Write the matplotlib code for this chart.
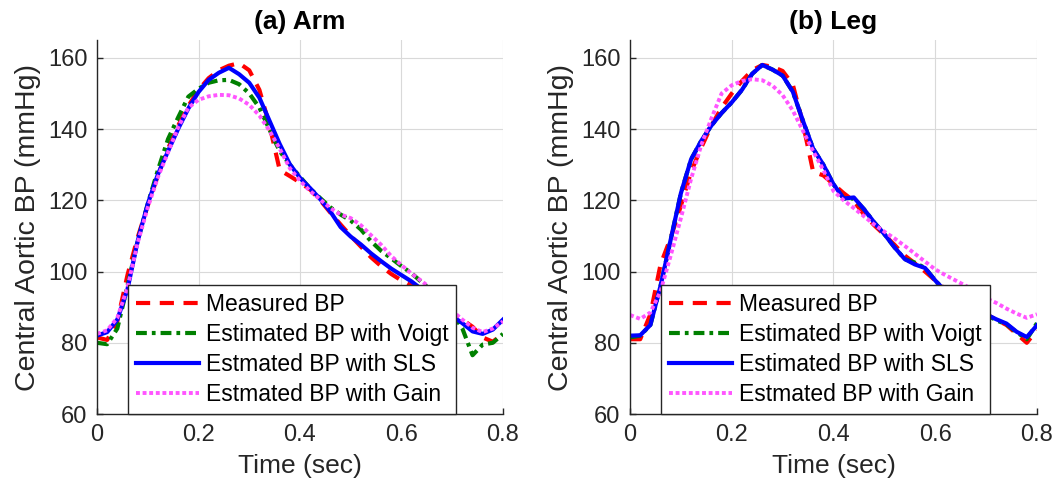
import matplotlib.pyplot as plt
import numpy as np

# time axis (sec), sampled every 0.02 s
t = np.round(np.arange(0, 0.81, 0.02), 2)

# (a) Arm
arm_measured = [81.5, 80.8, 86.0, 99.0, 109.5, 118.5, 127.0, 134.5, 141.0, 146.5, 151.0,
                154.3, 156.5, 157.8, 158.5, 156.5, 151.0, 141.0, 128.5, 126.8, 125.0,
                123.0, 120.0, 116.5, 113.2, 110.0, 107.0, 104.0, 101.5, 99.3, 97.5,
                96.0, 94.0, 92.0, 90.0, 88.0, 86.5, 84.5, 81.5, 80.3, 82.5]
arm_voigt = [80.0, 79.6, 84.0, 96.0, 108.5, 119.0, 128.5, 137.2, 143.3, 149.1, 151.3,
             153.0, 153.7, 153.8, 152.6, 150.0, 146.0, 139.8, 133.8, 130.0, 126.6,
             123.3, 120.6, 118.0, 116.0, 114.3, 111.8, 108.5, 105.8, 103.7, 101.5,
             99.5, 97.0, 94.5, 91.5, 88.5, 84.0, 76.5, 79.5, 80.0, 82.5]
arm_sls = [82.0, 83.0, 86.5, 95.0, 108.5, 119.0, 127.3, 133.8, 140.1, 145.8, 150.4,
           153.8, 155.8, 157.2, 155.4, 153.0, 148.8, 142.3, 135.8, 130.1, 126.3,
           123.4, 120.3, 116.8, 112.5, 109.8, 107.6, 105.1, 102.9, 100.8, 99.0,
           97.2, 95.0, 92.5, 90.0, 87.5, 85.5, 83.2, 82.5, 83.7, 86.5]
arm_gain = [82.5, 83.5, 87.0, 95.5, 108.0, 118.0, 126.5, 133.5, 140.5, 146.0, 148.2,
            149.2, 149.6, 149.5, 148.6, 146.8, 143.8, 139.5, 134.5, 129.0, 125.5,
            122.6, 120.2, 117.8, 116.0, 115.0, 113.0, 110.2, 107.5, 104.3, 101.8,
            99.4, 97.3, 95.0, 92.0, 89.0, 86.5, 84.2, 83.0, 84.0, 86.0]

# (b) Leg
leg_measured = [81.0, 81.0, 88.0, 102.0, 109.5, 118.5, 128.0, 134.8, 141.0, 146.0, 150.0,
                153.5, 156.5, 158.0, 157.5, 156.3, 152.5, 141.5, 128.0, 127.0, 124.5,
                122.0, 119.8, 116.0, 113.0, 110.3, 107.5, 104.5, 102.3, 100.0, 97.5,
                95.0, 93.0, 91.5, 90.0, 88.0, 86.5, 85.0, 82.5, 80.0, 83.5]
leg_voigt = [81.5, 82.0, 85.0, 96.0, 109.0, 122.0, 131.5, 136.7, 141.0, 144.5, 147.5,
             151.0, 155.5, 158.0, 156.7, 155.0, 150.5, 142.3, 134.5, 130.0, 124.5,
             120.5, 120.5, 117.5, 113.8, 110.5, 106.8, 103.5, 102.5, 101.0, 97.5,
             94.5, 92.5, 91.5, 90.0, 88.0, 86.3, 85.2, 83.0, 81.0, 85.5]
leg_sls = [82.0, 82.1, 85.0, 96.0, 109.0, 122.0, 131.5, 136.7, 141.0, 144.5, 147.5,
           151.0, 155.5, 158.0, 156.7, 155.0, 150.5, 142.3, 134.5, 130.0, 124.5,
           120.5, 120.8, 117.5, 113.8, 110.5, 106.8, 103.5, 102.0, 101.0, 97.5,
           94.5, 92.5, 91.5, 90.0, 88.0, 86.6, 85.4, 83.1, 81.6, 84.9]
leg_gain = [87.8, 86.7, 88.5, 94.5, 104.5, 115.0, 126.0, 135.5, 143.0, 150.0, 152.3,
            153.5, 154.0, 153.7, 152.2, 149.5, 145.2, 139.5, 133.8, 128.5, 122.6,
            120.0, 117.8, 115.5, 113.2, 111.2, 109.3, 107.2, 105.0, 102.8, 100.6,
            99.0, 97.5, 96.0, 94.5, 92.5, 91.2, 89.6, 88.2, 87.0, 88.0]

titles = ['(a) Arm', '(b) Leg']
labels_arm = ['Measured BP', 'Estimated BP with Voigt', 'Estmated BP with SLS', 'Estmated BP with Gain']
labels_leg = ['Measured BP', 'Estimated BP with Voigt', 'Estimated BP with SLS', 'Estmated BP with Gain']

plt.rcParams['font.family'] = ['Liberation Sans', 'DejaVu Sans']
dark = '#262626'

fig = plt.figure(figsize=(10.58, 4.99), dpi=100)
ax1 = fig.add_axes([0.0917, 0.1703, 0.3837, 0.7495])
ax2 = fig.add_axes([0.5955, 0.1703, 0.3846, 0.7495])

panels = [
    (ax1, [arm_measured, arm_voigt, arm_sls, arm_gain], labels_arm, titles[0]),
    (ax2, [leg_measured, leg_voigt, leg_sls, leg_gain], labels_leg, titles[1]),
]

for ax, series, labels, title in panels:
    ax.plot(t, series[0], color='#ff0000', lw=3, ls=(0, (3.4, 2.3)), label=labels[0])
    ax.plot(t, series[1], color='#008000', lw=3, ls=(0, (2.6, 1.2, 0.9, 1.2)), label=labels[1])
    ax.plot(t, series[2], color='#0000ff', lw=3, label=labels[2])
    ax.plot(t, series[3], color='#ff55ff', lw=2.8, ls=(0, (1.0, 0.7)), label=labels[3])

    ax.set_xlim(0, 0.8)
    ax.set_ylim(60, 165)
    ax.set_xticks([0, 0.2, 0.4, 0.6, 0.8])
    ax.set_xticklabels(['0', '0.2', '0.4', '0.6', '0.8'])
    ax.set_yticks([60, 80, 100, 120, 140, 160])
    ax.grid(True, color='#d9d9d9', lw=0.8)
    ax.set_axisbelow(True)
    for side in ['top', 'right']:
        ax.spines[side].set_visible(False)
    for side in ['left', 'bottom']:
        ax.spines[side].set_color(dark)
        ax.spines[side].set_linewidth(1.0)
    ax.tick_params(direction='in', length=4, width=1, colors=dark, labelsize=17, pad=7)

    ax.set_title(title, fontsize=19, fontweight='bold', pad=8)
    ax.set_xlabel('Time (sec)', fontsize=19, color=dark, labelpad=6)
    ax.set_ylabel('Central Aortic BP (mmHg)', fontsize=20.5, color=dark, labelpad=5)

    leg = ax.legend(loc='lower left', bbox_to_anchor=(0.076, 0.0), fontsize=16.5,
                    frameon=True, fancybox=False, framealpha=1, edgecolor=dark,
                    handlelength=2.75, handletextpad=0.3, labelspacing=0.3,
                    borderpad=0.35, borderaxespad=0)
    leg.get_frame().set_linewidth(1.0)

fig.savefig('out.png', dpi=100)
